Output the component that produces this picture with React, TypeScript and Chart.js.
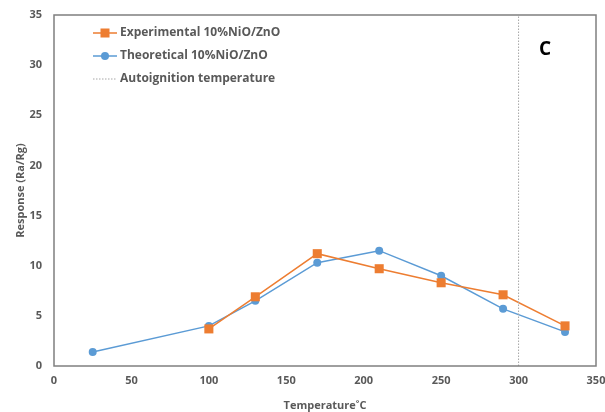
import React, { useEffect, useRef } from "react";
import { Chart, registerables } from "chart.js";
Chart.register(...registerables);

const expTemps = [100, 130, 170, 210, 250, 290, 330];
const expValues = [3.7, 6.9, 11.2, 9.7, 8.3, 7.1, 4.0];
const theoTemps = [25, 100, 130, 170, 210, 250, 290, 330];
const theoValues = [1.4, 4.0, 6.5, 10.3, 11.5, 9.0, 5.7, 3.4];
const autoTemps = [300, 300];
const autoValues = [0, 35];
const legendLabels = ["Experimental 10%NiO/ZnO", "Theoretical 10%NiO/ZnO", "Autoignition temperature"];
const panelLabel = "C";

const ORANGE = "#ED7D31";
const BLUE = "#5B9BD5";
const GRAY = "#595959";
const FONT = "'Open Sans', sans-serif";

const overlay = {
  id: "overlay",
  afterDraw(chart: any) {
    const { ctx, chartArea } = chart;
    ctx.save();
    ctx.strokeStyle = "#7f7f7f";
    ctx.lineWidth = 1.5;
    ctx.strokeRect(chartArea.left, chartArea.top, chartArea.right - chartArea.left, chartArea.bottom - chartArea.top);
    // legend
    const x0 = chartArea.left + 39;
    const x1 = chartArea.left + 63;
    const xm = (x0 + x1) / 2;
    const tx = chartArea.left + 66;
    const ys = [chartArea.top + 18, chartArea.top + 41, chartArea.top + 64];
    ctx.font = `bold 12px ${FONT}`;
    ctx.textBaseline = "middle";
    ctx.textAlign = "left";
    ctx.strokeStyle = ORANGE;
    ctx.lineWidth = 1.5;
    ctx.beginPath(); ctx.moveTo(x0, ys[0]); ctx.lineTo(x1, ys[0]); ctx.stroke();
    ctx.fillStyle = ORANGE;
    ctx.fillRect(xm - 4.5, ys[0] - 4.5, 9, 9);
    ctx.strokeStyle = BLUE;
    ctx.beginPath(); ctx.moveTo(x0, ys[1]); ctx.lineTo(x1, ys[1]); ctx.stroke();
    ctx.fillStyle = BLUE;
    ctx.beginPath(); ctx.arc(xm, ys[1], 4, 0, Math.PI * 2); ctx.fill();
    ctx.strokeStyle = "#a6a6a6";
    ctx.lineWidth = 1;
    ctx.setLineDash([1.5, 1.5]);
    ctx.beginPath(); ctx.moveTo(x0, ys[2]); ctx.lineTo(x1, ys[2]); ctx.stroke();
    ctx.setLineDash([]);
    ctx.fillStyle = GRAY;
    legendLabels.forEach((l, i) => ctx.fillText(l, tx, ys[i]));
    ctx.fillStyle = "#000";
    ctx.font = `bold 19px ${FONT}`;
    ctx.textAlign = "center";
    ctx.fillText(panelLabel, 545, 50);
    ctx.restore();
  },
};

export default function App() {
  const ref = useRef<HTMLCanvasElement>(null);
  useEffect(() => {
    const chart = new Chart(ref.current!, {
      type: "scatter",
      data: {
        datasets: [
          {
            label: legendLabels[2],
            data: autoTemps.map((x, i) => ({ x, y: autoValues[i] })),
            showLine: true,
            borderColor: "#a6a6a6",
            borderWidth: 1,
            borderDash: [1.5, 1.5],
            pointRadius: 0,
          },
          {
            label: legendLabels[0],
            data: expTemps.map((x, i) => ({ x, y: expValues[i] })),
            showLine: true,
            borderColor: ORANGE,
            backgroundColor: ORANGE,
            borderWidth: 1.5,
            pointStyle: "rect",
            pointRadius: 6.4,
            pointBorderWidth: 0,
          },
          {
            label: legendLabels[1],
            data: theoTemps.map((x, i) => ({ x, y: theoValues[i] })),
            showLine: true,
            borderColor: BLUE,
            backgroundColor: BLUE,
            borderWidth: 1.5,
            pointStyle: "circle",
            pointRadius: 4,
            pointBorderWidth: 0,
          },
        ],
      },
      options: {
        animation: false,
        responsive: false,
        layout: { padding: { left: 0, top: 15, right: 9, bottom: 0 } },
        plugins: { legend: { display: false }, tooltip: { enabled: false } },
        scales: {
          x: {
            type: "linear",
            min: 0,
            max: 350,
            ticks: { stepSize: 50, color: GRAY, font: { family: FONT, size: 11, weight: "bold" }, padding: 8, maxRotation: 0 },
            grid: { display: false, drawTicks: false },
            border: { display: false },
            title: { display: true, text: "Temperature˚C", color: GRAY, font: { family: FONT, size: 11, weight: "bold" }, padding: { top: 2, bottom: 0 } },
            afterFit: (s: any) => { s.height = 46; s.paddingRight = 0; s.paddingLeft = 0; },
          },
          y: {
            min: 0,
            max: 35,
            ticks: { stepSize: 5, color: GRAY, font: { family: FONT, size: 11, weight: "bold" }, padding: 12 },
            grid: { display: false, drawTicks: false },
            border: { display: false },
            title: { display: true, text: "Response (Ra/Rg)", color: GRAY, font: { family: FONT, size: 11, weight: "bold" }, padding: { top: 14, bottom: 0 } },
            afterFit: (s: any) => { s.width = 54; s.paddingTop = 0; s.paddingBottom = 0; },
          },
        },
      },
      plugins: [overlay],
    });
    return () => chart.destroy();
  }, []);
  return (
    <div style={{ position: "fixed", left: 0, top: 0, width: 605, height: 412, background: "#fff" }}>
      <canvas ref={ref} width={605} height={412} style={{ width: 605, height: 412 }} />
    </div>
  );
}
